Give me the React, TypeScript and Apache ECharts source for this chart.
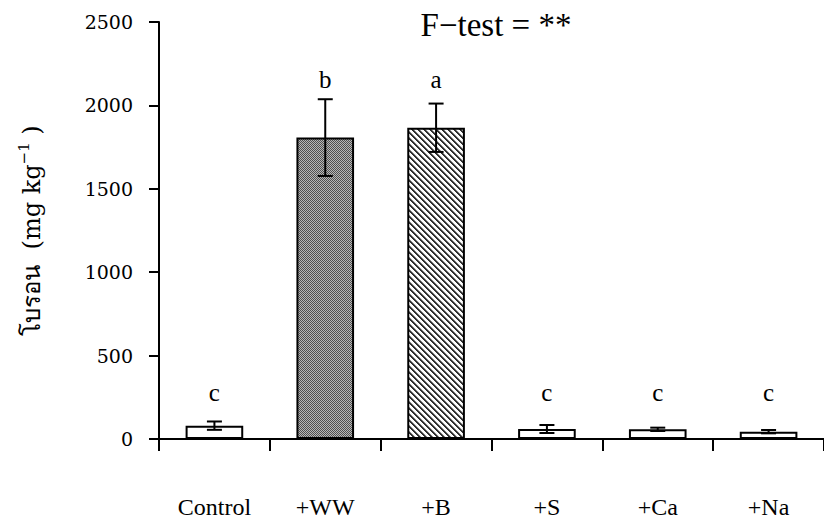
import React, { useEffect, useRef } from "react";
import * as echarts from "echarts";

const categories = ["Control", "+WW", "+B", "+S", "+Ca", "+Na"];
const means = [80, 1807, 1866, 60, 58, 44];
const errors = [25, 230, 145, 24, 10, 10];
const letters = ["c", "b", "a", "c", "c", "c"];
const letterY = [276, 2158, 2158, 276, 276, 276];
const yTicks = { min: 0, max: 2500, interval: 500 };

function makeCheckerPattern(): HTMLCanvasElement {
  const c = document.createElement("canvas");
  c.width = 4;
  c.height = 4;
  const ctx = c.getContext("2d")!;
  const img = ctx.createImageData(4, 4);
  for (let y = 0; y < 4; y++) {
    for (let x = 0; x < 4; x++) {
      const i = (y * 4 + x) * 4;
      const v = (x + y) % 2 === 0 ? 0x50 : 0xb8;
      img.data[i] = v;
      img.data[i + 1] = v;
      img.data[i + 2] = v;
      img.data[i + 3] = 255;
    }
  }
  ctx.putImageData(img, 0, 0);
  return c;
}

function makeHatchPattern(): HTMLCanvasElement {
  const P = 6;
  const c = document.createElement("canvas");
  c.width = P;
  c.height = P;
  const ctx = c.getContext("2d")!;
  const img = ctx.createImageData(P, P);
  for (let y = 0; y < P; y++) {
    for (let x = 0; x < P; x++) {
      const i = (y * P + x) * 4;
      const m = (((x - y) % P) + P) % P;
      const v = m === 0 || m === 1 ? 0x30 : m === 2 ? 0x90 : 0xff;
      img.data[i] = v;
      img.data[i + 1] = v;
      img.data[i + 2] = v;
      img.data[i + 3] = 255;
    }
  }
  ctx.putImageData(img, 0, 0);
  return c;
}

export default function App() {
  const ref = useRef<HTMLDivElement>(null);

  useEffect(() => {
    if (!ref.current) return;
    const chart = echarts.init(ref.current, null, { renderer: "svg" });
    const checker = makeCheckerPattern();
    const hatch = makeHatchPattern();
    const fills: any[] = [
      "#ffffff",
      { image: checker, repeat: "repeat", imageWidth: 4, imageHeight: 4 },
      { image: hatch, repeat: "repeat", imageWidth: 6, imageHeight: 6 },
      "#ffffff",
      "#ffffff",
      "#ffffff",
    ];

    const serif = "Liberation Serif";

    chart.setOption({
      animation: false,
      backgroundColor: "#ffffff",
      title: {
        text: "F\u2212test = **",
        left: 491,
        top: 3,
        textAlign: "center",
        textStyle: { fontFamily: serif, fontSize: 33, fontWeight: "normal", color: "#000" },
      },
      grid: { left: 159, right: -7, top: 22, bottom: 82 },
      xAxis: {
        type: "category",
        data: categories,
        axisLine: { lineStyle: { color: "#000", width: 2 } },
        axisTick: { show: true, length: 12, lineStyle: { color: "#000", width: 2 } },
        axisLabel: { color: "#000", fontFamily: serif, fontSize: 24, margin: 56 },
      },
      yAxis: {
        type: "value",
        min: yTicks.min,
        max: yTicks.max,
        interval: yTicks.interval,
        splitLine: { show: false },
        axisLine: { show: true, lineStyle: { color: "#000", width: 2 } },
        axisTick: { show: true, length: 10, lineStyle: { color: "#000", width: 2 } },
        axisLabel: {
          color: "#000",
          fontFamily: "DejaVu Serif",
          fontSize: 19,
          margin: 26,
          formatter: (v: number) => String(v),
        },
        name: "{a|\u0E42\u0E1A\u0E23\u0E2D\u0E19  (mg kg}{s|\u22121}{a| )}",
        nameLocation: "middle",
        nameGap: 112,
        nameRotate: 90,
        nameTextStyle: {
          rich: {
            a: { fontFamily: "DejaVu Serif", fontSize: 24, color: "#000" },
            s: {
              fontFamily: "DejaVu Serif",
              fontSize: 15,
              color: "#000",
              verticalAlign: "top",
              padding: [0, 0, 16, 0],
            },
          },
        },
      },
      series: [
        {
          type: "bar",
          barWidth: "52%",
          data: means.map((v, i) => ({
            value: v,
            itemStyle: { color: fills[i], borderColor: "#000", borderWidth: 2 },
          })),
          z: 2,
        },
        {
          type: "custom",
          z: 5,
          data: means.map((v, i) => [i, v - errors[i], v + errors[i]]),
          renderItem: (params: any, api: any) => {
            const x = api.value(0);
            const lo = api.coord([x, api.value(1)]);
            const hi = api.coord([x, api.value(2)]);
            const hw = 7.5;
            const style = { stroke: "#000", lineWidth: 2 };
            return {
              type: "group",
              children: [
                { type: "line", shape: { x1: lo[0], y1: lo[1], x2: hi[0], y2: hi[1] }, style },
                { type: "line", shape: { x1: lo[0] - hw, y1: lo[1], x2: lo[0] + hw, y2: lo[1] }, style },
                { type: "line", shape: { x1: hi[0] - hw, y1: hi[1], x2: hi[0] + hw, y2: hi[1] }, style },
              ],
            };
          },
        },
        {
          type: "custom",
          z: 6,
          data: letterY.map((v, i) => [i, v]),
          renderItem: (params: any, api: any) => {
            const p = api.coord([api.value(0), api.value(1)]);
            return {
              type: "text",
              x: p[0],
              y: p[1],
              style: {
                text: letters[params.dataIndex],
                fontFamily: serif,
                fontSize: 25,
                fill: "#000",
                align: "center",
                verticalAlign: "middle",
              },
            };
          },
        },
      ],
    });
    return () => chart.dispose();
  }, []);

  return <div ref={ref} style={{ width: 824, height: 521, position: "absolute", left: 0, top: 0 }} />;
}
